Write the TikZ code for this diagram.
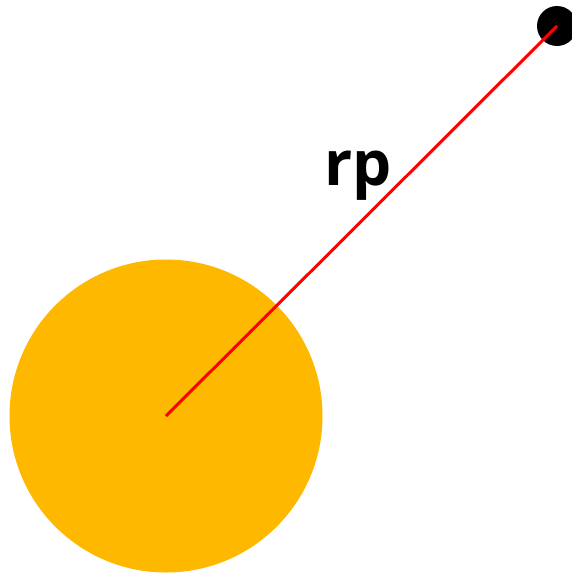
\documentclass[tikz,border=0pt]{standalone}
\usepackage{fontspec}
\setmainfont{Open Sans}
\begin{document}
\begin{tikzpicture}[x=1pt, y=-1pt, font=\bfseries]
  % frame of the picture
  \useasboundingbox (0, 0) rectangle (571, 573);
  \definecolor{sunorange}{RGB}{255,184,0}

  % Star (large orange disc)
  \node[circle, fill=sunorange, minimum size=313pt, inner sep=0pt] (star) at (166, 416) {};

  % Planet (small black dot, clipped at the border)
  \node[circle, fill=black, minimum size=40pt, inner sep=0pt] (planet) at (557, 26) {};

  % Distance line from star centre to planet
  \draw[red, line width=3pt] (star.center) -- (planet.center);

  % Label of the distance
  \node[anchor=base] (rp) at (358, 185) {\fontsize{62}{62}\selectfont rp};
\end{tikzpicture}
\end{document}
